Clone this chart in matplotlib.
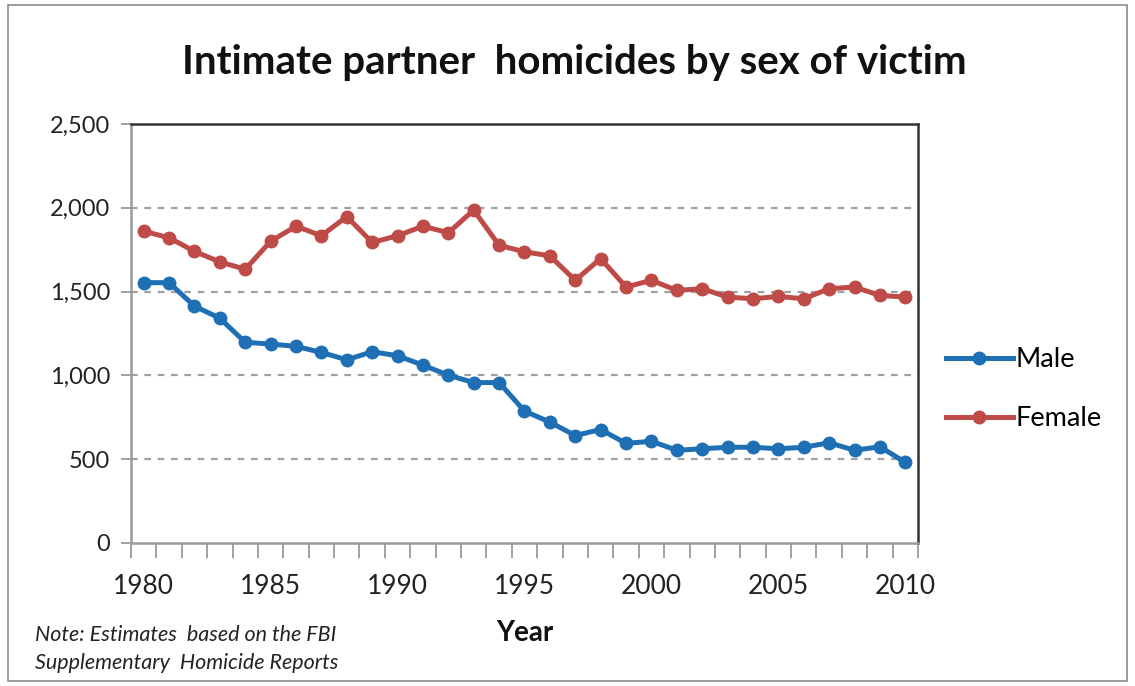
import matplotlib.pyplot as plt
import numpy as np
from matplotlib.patches import Rectangle
from matplotlib.ticker import FuncFormatter, MultipleLocator

years = np.arange(1980, 2011)
male = [1553, 1553, 1413, 1341, 1197, 1187, 1173, 1137, 1093, 1141,
        1117, 1061, 1001, 957, 957, 787, 721, 641, 677, 594,
        607, 553, 562, 571, 571, 562, 571, 598, 553, 574, 481]
female = [1860, 1821, 1740, 1677, 1633, 1800, 1890, 1833, 1947, 1793,
          1833, 1890, 1851, 1986, 1776, 1737, 1713, 1567, 1697, 1527,
          1567, 1507, 1517, 1467, 1457, 1471, 1457, 1517, 1527, 1477, 1467]
year_labels = [1980, 1985, 1990, 1995, 2000, 2005, 2010]

plt.rcParams["font.family"] = ["Lato", "DejaVu Sans"]

fig = plt.figure(figsize=(11.35, 6.86), dpi=100)
ax = fig.add_axes([0.1154, 0.2085, 0.6934, 0.6108])

ax.plot(years, male, color="#1F6FB5", linewidth=3.6, marker="o",
        markersize=9, label="Male", zorder=3)
ax.plot(years, female, color="#BE4B48", linewidth=3.6, marker="o",
        markersize=9, label="Female", zorder=3)

ax.set_xlim(1979.5, 2010.5)
ax.set_ylim(0, 2500)
ax.yaxis.set_major_locator(MultipleLocator(500))
ax.yaxis.set_major_formatter(FuncFormatter(lambda v, p: f"{int(v):,}"))
ax.set_xticks(year_labels)
ax.set_xticks(np.arange(1979.5, 2011, 1), minor=True)
ax.tick_params(axis="x", which="major", length=0, pad=22, labelsize=19,
               labelcolor="#222222")
ax.tick_params(axis="x", which="minor", length=11, width=1.3, color="#9a9a9a",
               direction="out")
ax.tick_params(axis="y", which="major", length=7, width=1.3, color="#9a9a9a",
               pad=8, labelsize=17, labelcolor="#222222")

for v in (500, 1000, 1500, 2000):
    ax.axhline(v, color="#a0a0a0", linewidth=1.6, linestyle=(0, (3, 3)), zorder=1)

ax.spines["left"].set_color("#9a9a9a")
ax.spines["bottom"].set_color("#9a9a9a")
ax.spines["left"].set_linewidth(1.8)
ax.spines["bottom"].set_linewidth(1.8)
ax.spines["top"].set_color("#333333")
ax.spines["right"].set_color("#333333")
ax.spines["top"].set_linewidth(1.8)
ax.spines["right"].set_linewidth(1.8)

ax.legend(loc="center left", bbox_to_anchor=(1.035, 0.367), frameon=False,
          fontsize=19.5, handlelength=2.5, handletextpad=0.1,
          labelspacing=1.25, borderaxespad=0, borderpad=0)

fig.text(0.506, 0.909, "Intimate partner  homicides by sex of victim",
         ha="center", va="center", fontsize=29, fontweight="bold",
         color="#111111")
fig.text(0.4625, 0.077, "Year", ha="center", va="center", fontsize=20,
         fontweight="bold", color="#111111")
fig.text(0.031, 0.074, "Note: Estimates  based on the FBI", ha="left",
         va="center", fontsize=15.5, style="italic", color="#222222")
fig.text(0.031, 0.033, "Supplementary  Homicide Reports", ha="left",
         va="center", fontsize=15.5, style="italic", color="#222222")

fig.patches.append(Rectangle((0.007, 0.007), 0.986, 0.986,
                             transform=fig.transFigure, fill=False,
                             edgecolor="#8c8c8c", linewidth=1.2))

fig.savefig("out.png", dpi=100)
